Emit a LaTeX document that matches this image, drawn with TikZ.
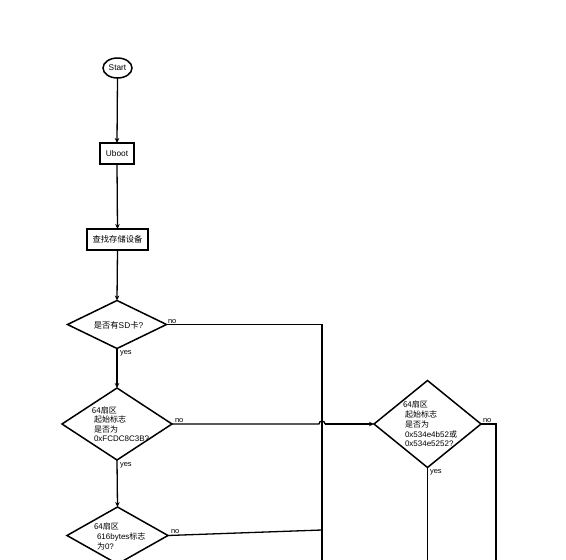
\documentclass[tikz,border=0pt]{standalone}
\usepackage{fontspec}
\setmainfont{Liberation Sans}
\newfontfamily\cjk{Noto Sans CJK SC}
\usetikzlibrary{shapes.geometric,arrows.meta}
\begin{document}
\begin{tikzpicture}[x=1pt,y=-1pt,
  every node/.style={font=\fontsize{8.3}{9.6}\selectfont, inner sep=0pt, outer sep=0pt},
  shp/.style={draw, line width=1.5pt},
  boxnode/.style={shp, rectangle, line width=1.8pt},
  startnode/.style={shp, ellipse},
  dia/.style={shp, diamond},
  txt/.style={align=left, anchor=west},
  lbl/.style={font=\fontsize{7.5}{9}\selectfont},
  conn/.style={line width=1.3pt},
  arr/.style={conn, -{Stealth[length=5pt,width=4.5pt]}}
]
\useasboundingbox (0,0) rectangle (566,560);
\clip (0,0) rectangle (566,560);
\fill[white] (0,0) rectangle (566,560);

% nodes
\node[startnode, minimum width=29pt, minimum height=20pt] (start) at (117.5,68) {Start};
\node[boxnode, minimum width=34pt, minimum height=21pt] (uboot) at (117,153.5) {Uboot};
\node[boxnode, minimum width=61pt, minimum height=21pt] (find) at (117.5,239.5) {\cjk 查找存储设备};

\node[dia, minimum width=99pt, minimum height=48pt] (d1) at (117,324.5) {};
\node (t1) at (118.5,325) {\cjk 是否有\normalfont SD\cjk 卡\normalfont ?};

\node[dia, minimum width=110pt, minimum height=72pt] (d2) at (117,424) {};
\node[txt, font=\fontsize{8}{9.4}\selectfont] (t2) at (92,424) {{\cjk 64扇区}\\\hspace{2pt}{\cjk 起始标志}\\\hspace{2pt}{\cjk 是否为}\\\hspace{2pt}0xFCDC8C3B?};

\node[dia, minimum width=107pt, minimum height=87pt] (d3) at (427.5,424) {};
\node[txt, font=\fontsize{8}{9.8}\selectfont] (t3) at (403,424) {{\cjk 64扇区}\\\hspace{2pt}{\cjk 起始标志}\\\hspace{2pt}{\cjk 是否为}\\\hspace{2pt}0x534e4b52{\cjk 或}\\\hspace{2pt}0x534e5252?};

\node[dia, minimum width=101pt, minimum height=57pt] (d4) at (117.5,535.5) {};
\node[txt, font=\fontsize{8}{10}\selectfont] (t4) at (94,536) {{\cjk 64扇区}\\\hspace{3pt}616bytes{\cjk 标志}\\\hspace{3pt}{\cjk 为}0?};

% helper coordinates
\coordinate (v1top) at (322,324.5);
\coordinate (v1bot) at (322,562);
\coordinate (jL) at (319,424);
\coordinate (jR) at (325,424);
\coordinate (d3r) at (496,424);
\coordinate (d3rbot) at (496,562);
\coordinate (d3bot) at (427.5,562);
\coordinate (d4end) at (322,530);

% connectors
\draw[arr] (start.south) -- (uboot.north);
\draw[arr] (uboot.south) -- (find.north);
\draw[arr] (find.south) -- (d1.north);
\draw[arr] (d1.south) -- (d2.north);
\draw[arr] (d2.south) -- (d4.north);

\draw[conn] (d1.east) -- (v1top) -- (v1bot);
\draw[conn] (d2.east) -- (jL) arc[start angle=180, end angle=0, radius=3pt] -- (jR);
\draw[arr] (jR) -- (d3.west);
\draw[conn] (d3.east) -- (d3r) -- (d3rbot);
\draw[conn] (d3.south) -- (d3bot);
\draw[conn] (d4.east) -- (d4end);

% labels
\node[lbl, anchor=south west] (n1) at (168,323.5) {no};
\node[lbl, anchor=north west] (y1) at (120,350) {yes};
\node[lbl, anchor=south west] (n2) at (175,422.5) {no};
\node[lbl, anchor=north west] (y2) at (120,462.5) {yes};
\node[lbl, anchor=south west] (n3) at (483,422.5) {no};
\node[lbl, anchor=north west] (y3) at (430,469.5) {yes};
\node[lbl, anchor=south west] (n4) at (171,534) {no};
\end{tikzpicture}
\end{document}
